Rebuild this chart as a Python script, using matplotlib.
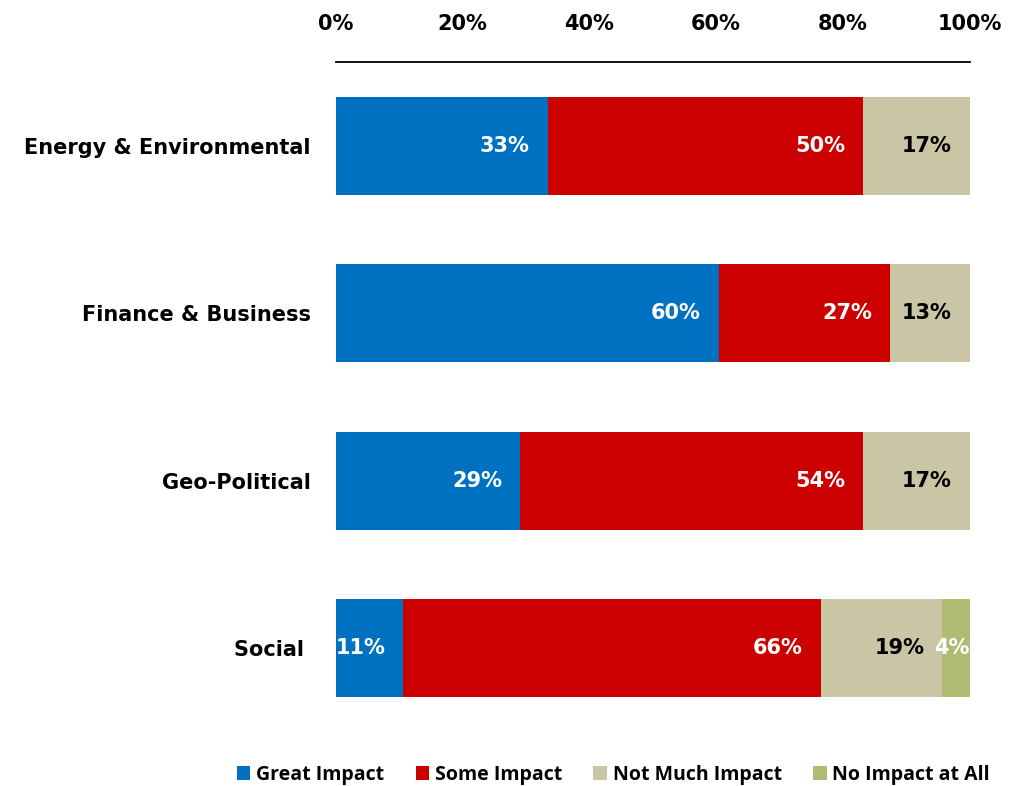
import matplotlib.pyplot as plt
import numpy as np

plt.rcParams['font.family'] = ['DejaVu Sans']

categories = ['Energy & Environmental', 'Finance & Business', 'Geo-Political', 'Social ']
series = ['Great Impact', 'Some Impact', 'Not Much Impact', 'No Impact at All']
# shares as drawn (unrounded), and the printed labels
great = [33.4, 60.4, 29.1, 10.6]
some = [49.8, 27.1, 54.1, 65.9]
not_much = [16.8, 12.5, 16.8, 19.2]
no_impact = [0.0, 0.0, 0.0, 4.3]
great_lbl = ['33%', '60%', '29%', '11%']
some_lbl = ['50%', '27%', '54%', '66%']
not_much_lbl = ['17%', '13%', '17%', '19%']
no_impact_lbl = ['', '', '', '4%']
colors = ['#0070C0', '#CC0000', '#C9C5A5', '#AEBB72']
label_colors = ['white', 'white', 'black', 'white']

fig = plt.figure(figsize=(10.19, 7.86), dpi=100)
ax = fig.add_axes([0.3297, 0.069, 0.6218, 0.852])

y = np.arange(len(categories))
left = np.zeros(len(categories))
for vals, lbls, name, col, lcol in zip([great, some, not_much, no_impact],
                                       [great_lbl, some_lbl, not_much_lbl, no_impact_lbl],
                                       series, colors, label_colors):
    vals = np.array(vals, dtype=float)
    ax.barh(y, vals, left=left, height=0.586, color=col, label=name)
    for yi, (l, v, t) in enumerate(zip(left, vals, lbls)):
        if v <= 0:
            continue
        if v < 6:
            # small slice: label spills past the axes edge and is clipped
            ax.text(l - 1.3, yi, t, ha='left', va='center',
                    color=lcol, fontsize=15, fontweight='bold', clip_on=True)
        else:
            ax.text(l + v - 2.8, yi, t, ha='right', va='center',
                    color=lcol, fontsize=15, fontweight='bold')
    left += vals

ax.set_xlim(0, 100)
ax.set_ylim(3.5, -0.502)
ax.set_yticks(y)
ax.set_yticklabels(categories, fontsize=15, fontweight='bold')
ax.tick_params(axis='y', length=0, pad=18)
ax.xaxis.tick_top()
ax.set_xticks(np.arange(0, 101, 20))
ax.set_xticklabels([f'{t}%' for t in range(0, 101, 20)], fontsize=15, fontweight='bold')
ax.tick_params(axis='x', length=0, pad=20)
for s in ['left', 'right', 'bottom']:
    ax.spines[s].set_visible(False)
ax.spines['top'].set_linewidth(1.3)

fig.legend(loc='center', bbox_to_anchor=(0.602, 0.014), ncol=4, frameon=False,
           handlelength=0.7, handleheight=0.7, handletextpad=0.3, columnspacing=1.6,
           prop={'family': 'Open Sans', 'size': 14, 'weight': 'bold'})

fig.savefig('out.png', dpi=100)
